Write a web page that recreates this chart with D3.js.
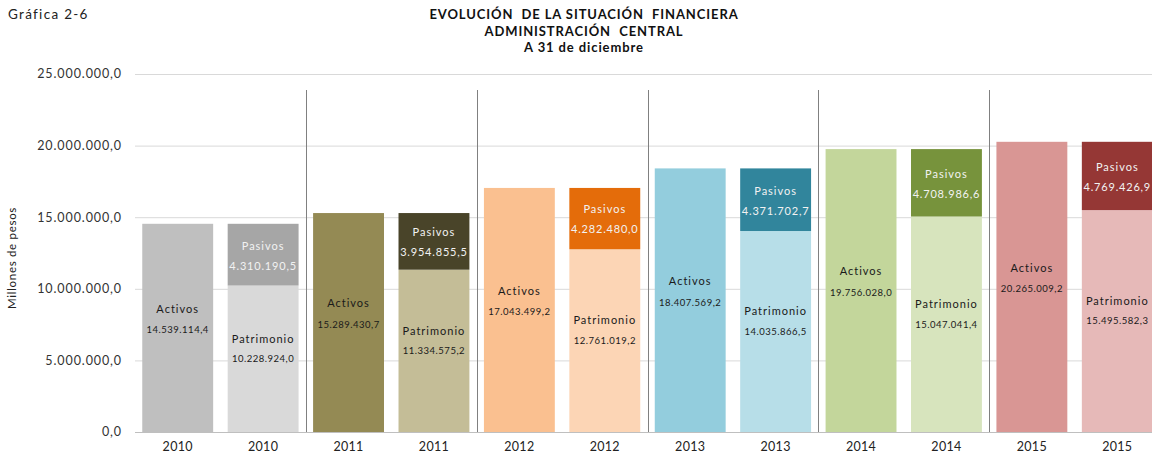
<!DOCTYPE html>
<html>
<head>
<meta charset="utf-8">
<script src="https://cdn.jsdelivr.net/npm/d3@7"></script>
<style>
  body { margin: 0; background: #fff; }
  svg { display: block; }
</style>
</head>
<body>
<div id="chart"></div>
<script>
const years = ['2010', '2011', '2012', '2013', '2014', '2015'];
const activos = [14539114.4, 15289430.7, 17043499.2, 18407569.2, 19756028.0, 20265009.2];
const patrimonio = [10228924.0, 11334575.2, 12761019.2, 14035866.5, 15047041.4, 15495582.3];
const pasivos = [4310190.5, 3954855.5, 4282480.0, 4371702.7, 4708986.6, 4769426.9];
const yTicks = [0, 5000000, 10000000, 15000000, 20000000, 25000000];

const colActivos = ['#bfbfbf', '#948a54', '#fac090', '#93cddd', '#c3d69b', '#d99694'];
const colPatrimonio = ['#d9d9d9', '#c4bd97', '#fcd5b5', '#b7dee8', '#d7e4bd', '#e6b9b8'];
const colPasivos = ['#a6a6a6', '#494429', '#e46c0a', '#31859c', '#77933c', '#953735'];

const width = 1152, height = 457;
const svg = d3.select('#chart').append('svg').attr('width', width).attr('height', height);

const fmt = v => {
  const [i, d] = v.toFixed(1).split('.');
  return i.replace(/\B(?=(\d{3})+(?!\d))/g, '.') + ',' + d;
};

// 12 slots: activos / patrimonio+pasivos for each year
const slots = [];
years.forEach((y, i) => {
  slots.push({ key: 'a' + i, year: y, i, kind: 'a' });
  slots.push({ key: 'p' + i, year: y, i, kind: 'p' });
});

const x = d3.scaleBand().domain(slots.map(d => d.key)).range([135, 1160]).paddingInner(0.17).paddingOuter(0.085);
const y = d3.scaleLinear().domain([0, 25000000]).range([432, 74]);
const step = x.step();

// titles
svg.append('text').attr('x', 8).attr('y', 19).attr('font-family', 'Lato, sans-serif')
  .attr('font-size', 13.5).attr('letter-spacing', 1.3).attr('fill', '#222').text('Gráfica 2-6');
const titles = ['EVOLUCIÓN  DE LA SITUACIÓN  FINANCIERA', 'ADMINISTRACIÓN  CENTRAL', 'A 31 de diciembre'];
titles.forEach((t, k) => {
  svg.append('text').attr('x', 584).attr('y', 19 + k * 16.5).attr('text-anchor', 'middle')
    .attr('font-family', 'Lato, sans-serif').attr('font-weight', 700).attr('font-size', 13)
    .attr('letter-spacing', 0.9).attr('fill', '#111').attr('xml:space', 'preserve').text(t);
});

// grid
svg.append('g').selectAll('line').data(yTicks).join('line')
  .attr('x1', 135).attr('x2', width).attr('y1', d => y(d) + 0.5).attr('y2', d => y(d) + 0.5)
  .attr('stroke', d => d === 0 ? '#bfbfbf' : '#d9d9d9').attr('stroke-width', 1);

// y axis labels
svg.append('g').selectAll('text').data(yTicks).join('text')
  .attr('x', 122).attr('y', d => y(d)).attr('dy', '0.35em').attr('text-anchor', 'end')
  .attr('font-family', 'Lato, sans-serif').attr('font-size', 12.5).attr('letter-spacing', 0.9).attr('fill', '#333')
  .text(d => fmt(d));
svg.append('text').attr('transform', 'translate(16,258) rotate(-90)').attr('text-anchor', 'middle')
  .attr('font-family', 'Lato, sans-serif').attr('font-size', 11.5).attr('letter-spacing', 0.7).attr('fill', '#222')
  .text('Millones de pesos');

// separators between years
svg.append('g').selectAll('line').data(years.slice(1)).join('line')
  .attr('x1', (d, k) => Math.round(135 + (k + 1) * 2 * step) + 0.5)
  .attr('x2', (d, k) => Math.round(135 + (k + 1) * 2 * step) + 0.5)
  .attr('y1', 90).attr('y2', 432).attr('stroke', '#808080').attr('stroke-width', 1);

const bars = svg.append('g');
function label(cx, yy, txt, size, spacing, fill) {
  bars.append('text').attr('x', cx).attr('y', yy).attr('dy', '0.35em').attr('text-anchor', 'middle')
    .attr('font-family', 'Lato, sans-serif').attr('font-size', size).attr('letter-spacing', spacing)
    .attr('fill', fill).text(txt);
}
slots.forEach(s => {
  const bx = x(s.key), bw = x.bandwidth(), cx = bx + bw / 2;
  if (s.kind === 'a') {
    const top = y(activos[s.i]);
    bars.append('rect').attr('x', bx).attr('y', top).attr('width', bw).attr('height', y(0) - top)
      .attr('fill', colActivos[s.i]);
    const mid = (top + y(0)) / 2;
    label(cx, mid - 19, 'Activos', 11, 1, '#1a1a1a');
    label(cx, mid + 2, fmt(activos[s.i]), 9.5, 0.5, '#1a1a1a');
  } else {
    const pTop = y(patrimonio[s.i]);
    const qTop = y(patrimonio[s.i] + pasivos[s.i]);
    bars.append('rect').attr('x', bx).attr('y', pTop).attr('width', bw).attr('height', y(0) - pTop)
      .attr('fill', colPatrimonio[s.i]);
    bars.append('rect').attr('x', bx).attr('y', qTop).attr('width', bw).attr('height', pTop - qTop)
      .attr('fill', colPasivos[s.i]);
    const mid = (pTop + y(0)) / 2;
    label(cx, mid - 20, 'Patrimonio', 11, 1, '#1a1a1a');
    label(cx, mid, fmt(patrimonio[s.i]), 9.5, 0.5, '#1a1a1a');
    const qmid = (qTop + pTop) / 2;
    label(cx, qmid - 9, 'Pasivos', 11, 1, '#f2f2f2');
    label(cx, qmid + 11, fmt(pasivos[s.i]), 11, 0.8, '#f2f2f2');
  }
});

// x axis labels
svg.append('g').selectAll('text').data(slots).join('text')
  .attr('x', d => x(d.key) + x.bandwidth() / 2).attr('y', 447).attr('dy', '0.35em').attr('text-anchor', 'middle')
  .attr('font-family', 'Lato, sans-serif').attr('font-size', 12.5).attr('letter-spacing', 0.3).attr('fill', '#222')
  .text(d => d.year);
</script>
</body>
</html>
